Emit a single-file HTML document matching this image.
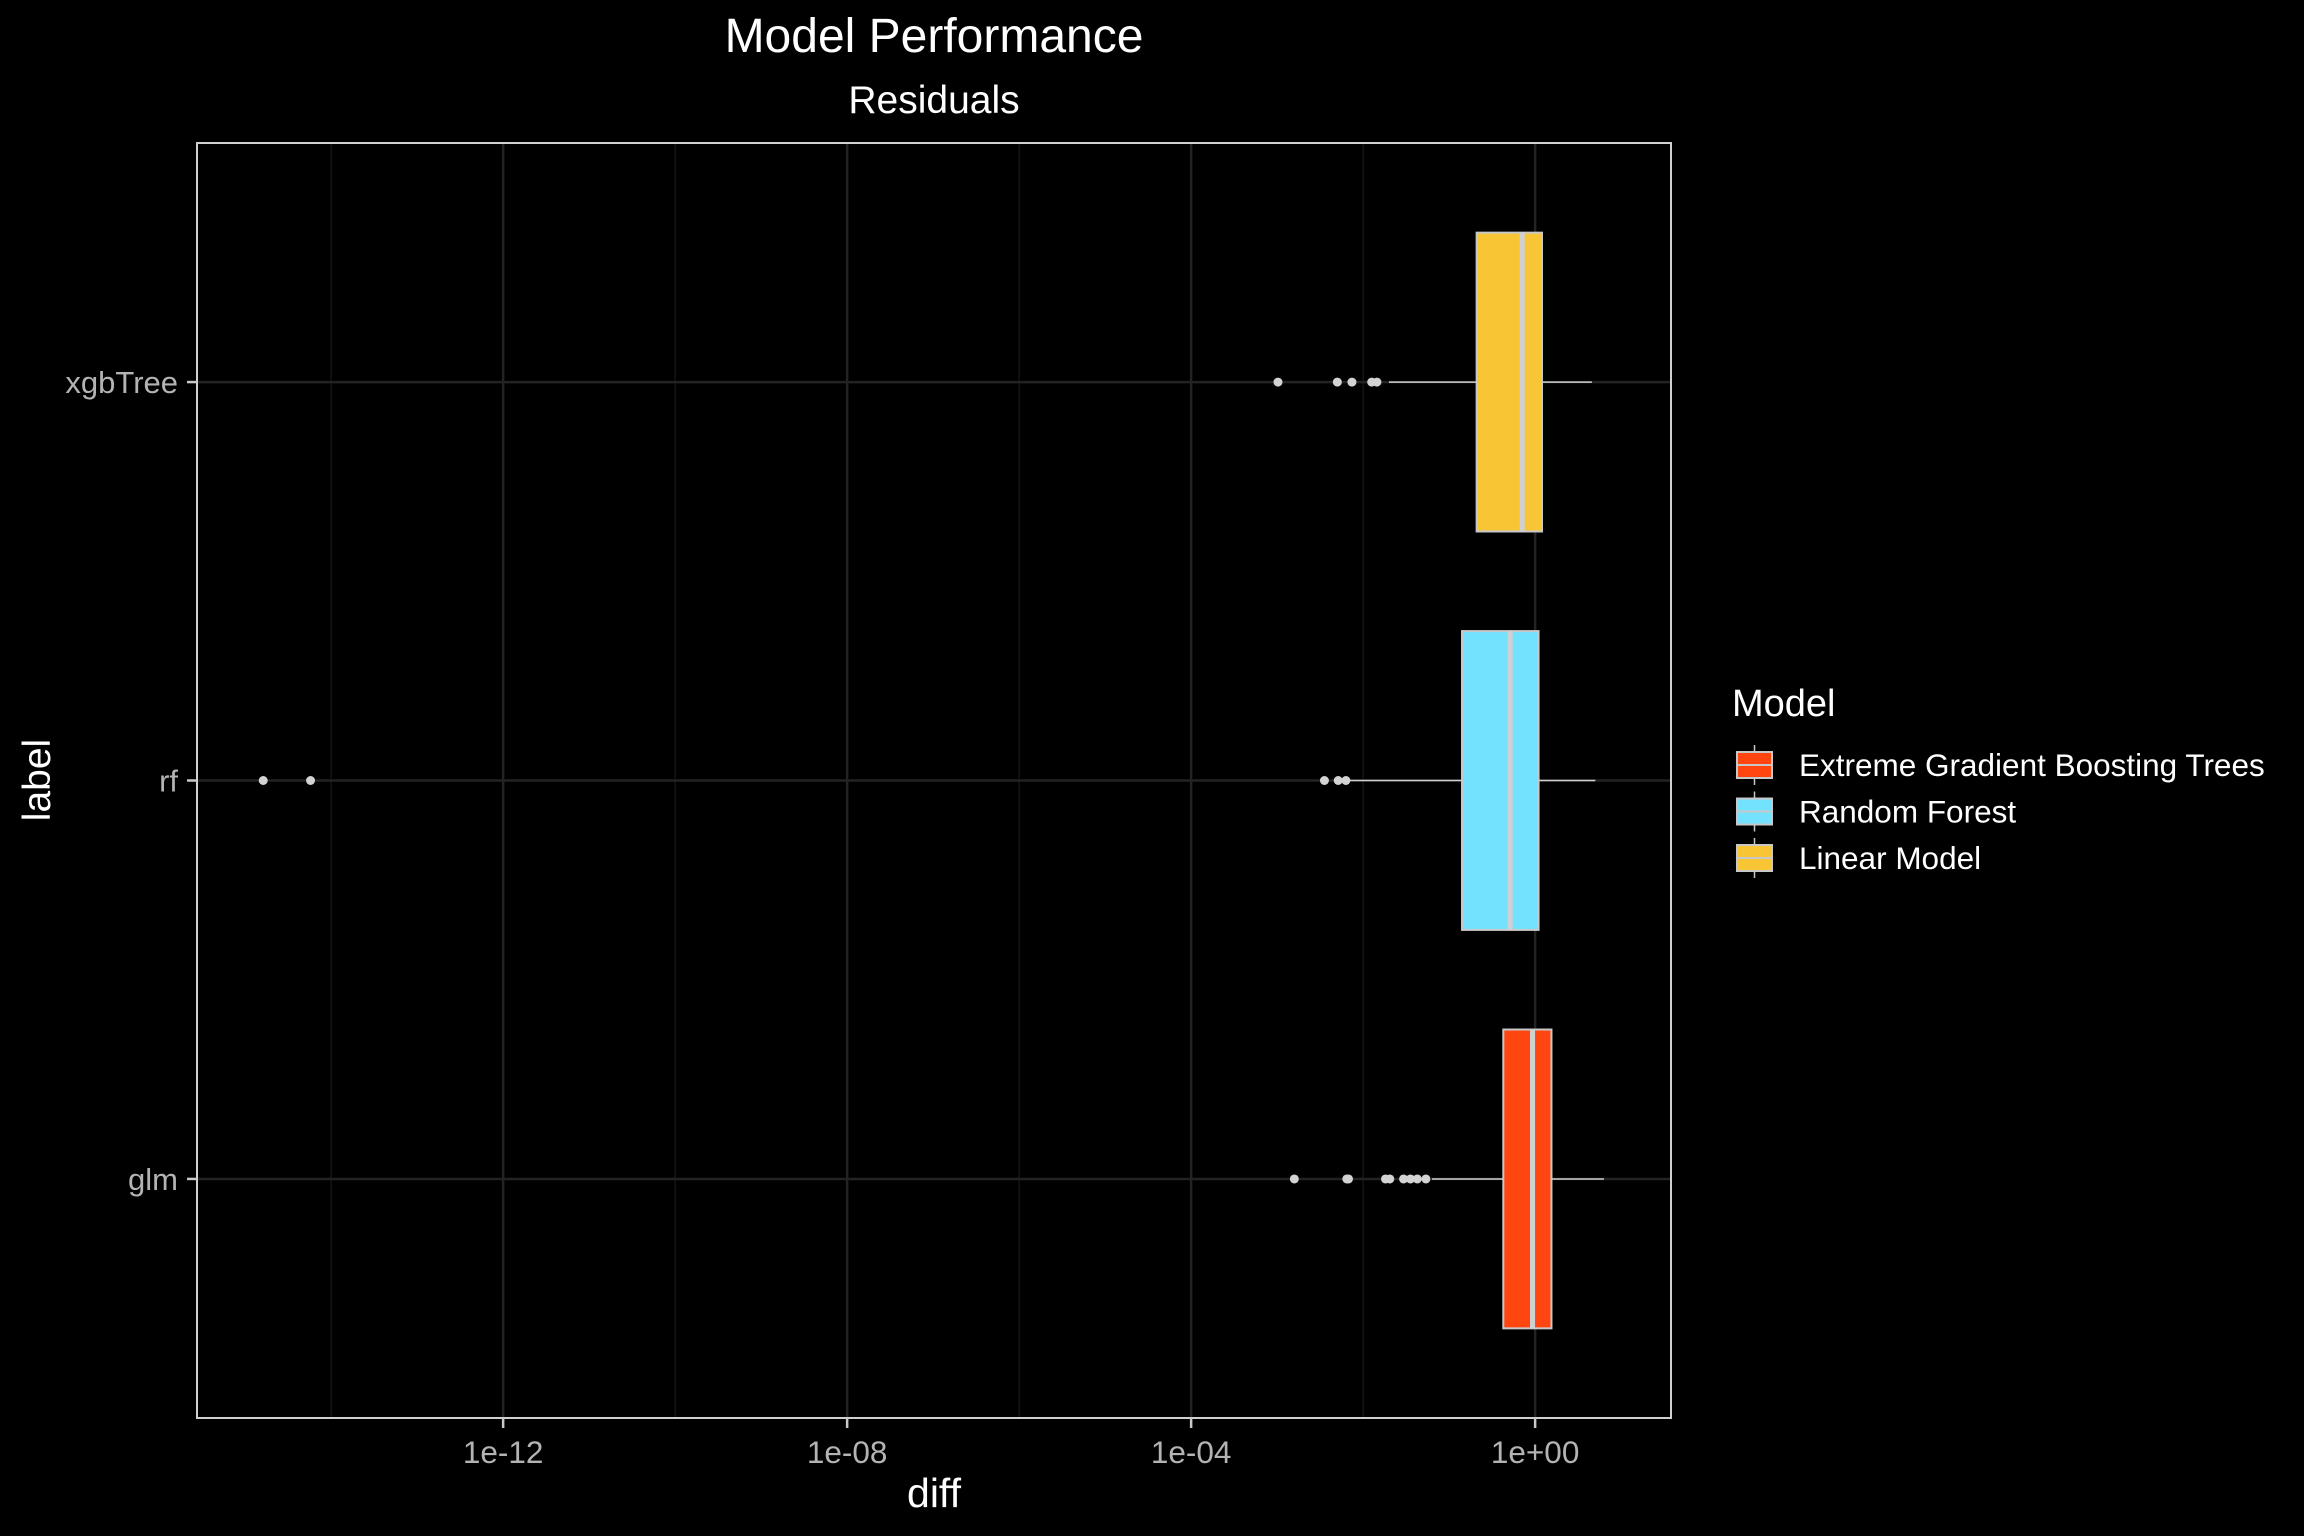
<!DOCTYPE html>
<html><head><meta charset="utf-8"><style>
html,body{margin:0;padding:0;background:#000;}
svg{display:block;font-family:"Liberation Sans",sans-serif;}
</style></head><body>
<svg id="chart" width="2304" height="1536" viewBox="0 0 2304 1536" xmlns="http://www.w3.org/2000/svg">
<rect x="0" y="0" width="2304" height="1536" fill="#000"/>
<text x="934" y="52" text-anchor="middle" fill="#fff" font-size="48">Model Performance</text>
<text x="934" y="113" text-anchor="middle" fill="#fff" font-size="39">Residuals</text>
<g id="grid"></g>
<g id="marks"></g>
<rect x="197" y="143" width="1474" height="1275" fill="none" stroke="#d0d0d0" stroke-width="2"/>
<g id="axes"></g>
<text x="934" y="1507" text-anchor="middle" fill="#fff" font-size="41">diff</text>
<text x="0" y="0" transform="translate(50,780) rotate(-90)" text-anchor="middle" fill="#fff" font-size="39">label</text>
<g>
<text x="1732" y="716" fill="#fff" font-size="38">Model</text>
<g id="legend-items"></g>
</g>
</svg>
<script>
// data (log10 of diff)
const categories = ["glm", "rf", "xgbTree"];
const q1 = [-0.37, -0.85, -0.68];
const median = [-0.03, -0.29, -0.15];
const q3 = [0.19, 0.04, 0.08];
const whiskerLow = [-1.20, -2.15, -1.70];
const whiskerHigh = [0.80, 0.70, 0.66];
const outliersGlm = [-2.80, -2.19, -2.17, -1.74, -1.69, -1.53, -1.45, -1.37, -1.27];
const outliersRf = [-14.79, -14.24, -2.45, -2.29, -2.20];
const outliersXgb = [-2.99, -2.30, -2.13, -1.90, -1.84];
const outliers = [outliersGlm, outliersRf, outliersXgb];
const boxColors = ["#FF4611", "#72E2FF", "#F8C535"];
const majorTicks = [-12, -8, -4, 0];
const tickLabels = ["1e-12", "1e-08", "1e-04", "1e+00"];
const minorTicks = [-14, -10, -6, -2];
const legendLabels = ["Extreme Gradient Boosting Trees", "Random Forest", "Linear Model"];

const NS = "http://www.w3.org/2000/svg";
const L = 197, R = 1671, T = 143, B = 1418;
const xMin = -15.56, xMax = 1.58;
const x = v => L + (v - xMin) / (xMax - xMin) * (R - L);
const unit = (B - T) / (categories.length + 0.2);
const y = i => B - unit * (i + 0.6);
function mk(tag, attrs, parent) {
  const e = document.createElementNS(NS, tag);
  for (const k in attrs) e.setAttribute(k, attrs[k]);
  parent.appendChild(e);
  return e;
}
const grid = document.getElementById("grid");
const marks = document.getElementById("marks");
const axes = document.getElementById("axes");
minorTicks.forEach(v => {
  const l = mk("line", {x1: x(v), x2: x(v), y1: T, y2: B, stroke: "#141414", "stroke-width": 1.5}, grid);
  
  
});
majorTicks.forEach((v, i) => {
  const l = mk("line", {x1: x(v), x2: x(v), y1: T, y2: B, stroke: "#232323", "stroke-width": 2.5}, grid);
  
  
  const t = mk("line", {x1: x(v), x2: x(v), y1: B, y2: B + 10, stroke: "#c8c8c8", "stroke-width": 2.5}, axes);
  
  
  const tx = mk("text", {x: x(v), y: 1463, "text-anchor": "middle", fill: "#b3b3b3", "font-size": 31.5}, axes);
  tx.textContent = tickLabels[i];
  
  
});
categories.forEach((c, i) => {
  const cy = y(i);
  const g = mk("line", {x1: L, x2: R, y1: cy, y2: cy, stroke: "#232323", "stroke-width": 2.5}, grid);
  
  
  const t = mk("line", {x1: L - 10, x2: L, y1: cy, y2: cy, stroke: "#c8c8c8", "stroke-width": 2.5}, axes);
  
  
  const tx = mk("text", {x: 178, y: cy + 11, "text-anchor": "end", fill: "#b3b3b3", "font-size": 31}, axes);
  tx.textContent = c;
  
  
  const h = unit * 0.75;
  const w1 = mk("line", {x1: x(whiskerLow[i]), x2: x(q1[i]), y1: cy, y2: cy, stroke: "#d0d0d0", "stroke-width": 1.5}, marks);
  
  
  const w2 = mk("line", {x1: x(q3[i]), x2: x(whiskerHigh[i]), y1: cy, y2: cy, stroke: "#d0d0d0", "stroke-width": 1.5}, marks);
  
  
  const b = mk("rect", {x: x(q1[i]), y: cy - h / 2, width: x(q3[i]) - x(q1[i]), height: h, fill: boxColors[i], stroke: "#c8c8c8", "stroke-width": 2}, marks);
  
  
  const m = mk("line", {x1: x(median[i]), x2: x(median[i]), y1: cy - h / 2, y2: cy + h / 2, stroke: "#d0d0d0", "stroke-width": 5}, marks);
  
  
  outliers[i].forEach(v => {
    const o = mk("circle", {cx: x(v), cy: cy, r: 4.5, fill: "#d3d3d3"}, marks);
    
    
  });
});
const li = document.getElementById("legend-items");
legendLabels.forEach((lab, i) => {
  const cy = 765 + i * 46.5;
  const g = mk("g", {}, li);
  
  
  mk("line", {x1: 1754.5, x2: 1754.5, y1: cy - 20, y2: cy + 20, stroke: "#c8c8c8", "stroke-width": 1.5}, g);
  mk("rect", {x: 1737, y: cy - 13, width: 35, height: 26, fill: boxColors[i], stroke: "#c8c8c8", "stroke-width": 2}, g);
  mk("line", {x1: 1737, x2: 1772, y1: cy, y2: cy, stroke: "#c8c8c8", "stroke-width": 2}, g);
  const t = mk("text", {x: 1799, y: cy + 11, fill: "#fff", "font-size": 31.5}, g);
  t.textContent = lab;
  
  
});
</script>
</body></html>
